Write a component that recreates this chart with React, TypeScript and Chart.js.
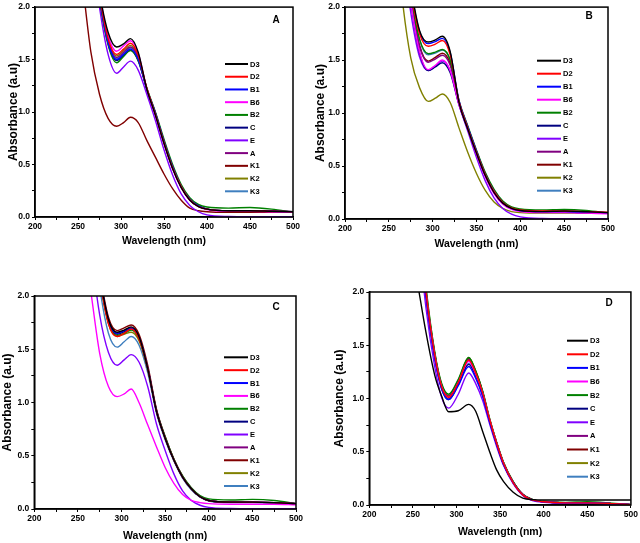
import React, { useEffect, useRef } from 'react';
import { Chart, registerables } from 'chart.js';

Chart.register(...registerables);
Chart.defaults.font.family = '"Liberation Sans", Arial, sans-serif';

// ---------- data ----------
const SERIES = ['D3', 'D2', 'B1', 'B6', 'B2', 'C', 'E', 'A', 'K1', 'K2', 'K3'];
const COLORS = ['#000000', '#ff0000', '#0000ff', '#ff00ff', '#008000', '#000080', '#8000ff', '#800080', '#800000', '#808000', '#3f7fbf'];
const PANEL_LETTERS = ['A', 'B', 'C', 'D'];
const X_TITLE = 'Wavelength (nm)';
const Y_TITLE = 'Absorbance (a.u)';

const WL_ABC = [255, 265, 275, 285, 295, 303, 311, 320, 330, 340, 350, 360, 370, 380, 390, 400, 425, 450, 475, 500];
const WL_D = [255, 265, 275, 283, 291, 302, 314, 322, 330, 338, 346, 354, 365, 376, 388, 400, 425, 450, 475, 500];

// Panel A
const A_D3 = [3.4, 2.8, 2.15, 1.76, 1.62, 1.65, 1.70, 1.57, 1.22, 0.97, 0.70, 0.46, 0.28, 0.16, 0.10, 0.075, 0.06, 0.06, 0.055, 0.05];
const A_D2 = [3.4, 2.75, 2.12, 1.70, 1.55, 1.60, 1.655, 1.54, 1.23, 0.98, 0.71, 0.47, 0.29, 0.165, 0.10, 0.075, 0.06, 0.06, 0.055, 0.05];
const A_B1 = [3.4, 2.75, 2.10, 1.66, 1.50, 1.55, 1.60, 1.50, 1.22, 0.99, 0.72, 0.48, 0.29, 0.17, 0.105, 0.075, 0.06, 0.06, 0.055, 0.05];
const A_B6 = [3.4, 2.8, 2.14, 1.73, 1.58, 1.63, 1.68, 1.56, 1.22, 0.97, 0.70, 0.46, 0.28, 0.16, 0.10, 0.07, 0.055, 0.055, 0.05, 0.045];
const A_B2 = [3.4, 2.75, 2.08, 1.64, 1.47, 1.53, 1.585, 1.49, 1.23, 1.00, 0.74, 0.50, 0.31, 0.185, 0.12, 0.095, 0.085, 0.09, 0.075, 0.045];
const A_C = [3.4, 2.75, 2.09, 1.65, 1.49, 1.54, 1.59, 1.49, 1.22, 0.99, 0.72, 0.48, 0.29, 0.17, 0.105, 0.075, 0.06, 0.06, 0.055, 0.05];
const A_E = [3.3, 2.65, 2.0, 1.55, 1.37, 1.43, 1.485, 1.40, 1.17, 0.92, 0.64, 0.40, 0.22, 0.11, 0.05, 0.02, 0.005, 0.003, 0.003, 0.003];
const A_A = [3.4, 2.75, 2.11, 1.68, 1.52, 1.57, 1.62, 1.52, 1.22, 0.98, 0.71, 0.47, 0.29, 0.165, 0.10, 0.075, 0.06, 0.06, 0.055, 0.05];
const A_K1 = [2.25, 1.57, 1.17, 0.94, 0.865, 0.90, 0.95, 0.90, 0.73, 0.57, 0.41, 0.27, 0.16, 0.085, 0.06, 0.05, 0.045, 0.045, 0.045, 0.045];
const A_K2 = [3.4, 2.75, 2.12, 1.69, 1.535, 1.585, 1.635, 1.53, 1.22, 0.98, 0.71, 0.47, 0.29, 0.165, 0.10, 0.075, 0.06, 0.06, 0.055, 0.05];
const A_K3 = [3.4, 2.75, 2.10, 1.67, 1.51, 1.56, 1.61, 1.51, 1.22, 0.99, 0.72, 0.48, 0.29, 0.17, 0.105, 0.075, 0.06, 0.06, 0.055, 0.05];

// Panel B
const B_D3 = [3.4, 2.8, 2.2, 1.78, 1.67, 1.69, 1.725, 1.58, 1.10, 0.85, 0.62, 0.41, 0.25, 0.15, 0.10, 0.08, 0.07, 0.075, 0.07, 0.06];
const B_D2 = [3.4, 2.8, 2.16, 1.75, 1.63, 1.65, 1.685, 1.55, 1.11, 0.86, 0.63, 0.42, 0.26, 0.155, 0.105, 0.085, 0.075, 0.075, 0.07, 0.065];
const B_B1 = [3.4, 2.8, 2.18, 1.77, 1.655, 1.675, 1.705, 1.57, 1.12, 0.87, 0.64, 0.42, 0.26, 0.155, 0.10, 0.08, 0.07, 0.07, 0.065, 0.06];
const B_B6 = [3.3, 2.7, 2.05, 1.58, 1.41, 1.45, 1.50, 1.40, 1.08, 0.85, 0.61, 0.40, 0.24, 0.14, 0.09, 0.07, 0.06, 0.06, 0.055, 0.05];
const B_B2 = [3.4, 2.8, 2.12, 1.70, 1.56, 1.575, 1.60, 1.50, 1.12, 0.88, 0.65, 0.44, 0.28, 0.17, 0.115, 0.095, 0.085, 0.09, 0.08, 0.055];
const B_C = [3.3, 2.7, 2.05, 1.57, 1.40, 1.435, 1.475, 1.38, 1.08, 0.85, 0.62, 0.41, 0.25, 0.15, 0.10, 0.08, 0.065, 0.065, 0.06, 0.055];
const B_E = [3.3, 2.6, 1.95, 1.53, 1.40, 1.44, 1.49, 1.40, 1.08, 0.83, 0.58, 0.36, 0.20, 0.10, 0.045, 0.02, 0.005, 0.003, 0.003, 0.003];
const B_A = [3.4, 2.75, 2.08, 1.63, 1.48, 1.51, 1.545, 1.45, 1.10, 0.86, 0.63, 0.42, 0.26, 0.155, 0.10, 0.08, 0.065, 0.065, 0.06, 0.055];
const B_K1 = [3.4, 2.75, 2.09, 1.64, 1.49, 1.525, 1.565, 1.47, 1.10, 0.86, 0.63, 0.42, 0.26, 0.155, 0.10, 0.08, 0.065, 0.065, 0.06, 0.055];
const B_K2 = [3.0, 2.1, 1.52, 1.24, 1.11, 1.14, 1.18, 1.10, 0.86, 0.63, 0.43, 0.27, 0.16, 0.10, 0.07, 0.06, 0.055, 0.055, 0.055, 0.055];
const B_K3 = [3.4, 2.8, 2.11, 1.69, 1.55, 1.565, 1.595, 1.50, 1.11, 0.87, 0.64, 0.43, 0.27, 0.16, 0.105, 0.085, 0.07, 0.07, 0.065, 0.06];

// Panel C
const C_D3 = [3.4, 2.8, 2.2, 1.78, 1.66, 1.68, 1.71, 1.62, 1.32, 0.92, 0.665, 0.46, 0.30, 0.19, 0.115, 0.08, 0.065, 0.065, 0.06, 0.05];
const C_D2 = [3.4, 2.8, 2.17, 1.74, 1.62, 1.65, 1.69, 1.60, 1.32, 0.92, 0.665, 0.46, 0.30, 0.19, 0.115, 0.08, 0.065, 0.065, 0.06, 0.05];
const C_B1 = [3.4, 2.8, 2.19, 1.77, 1.65, 1.675, 1.70, 1.61, 1.32, 0.92, 0.665, 0.46, 0.30, 0.19, 0.115, 0.08, 0.065, 0.065, 0.06, 0.05];
const C_B6 = [2.6, 2.03, 1.46, 1.15, 1.055, 1.08, 1.127, 1.00, 0.79, 0.585, 0.39, 0.24, 0.135, 0.08, 0.06, 0.05, 0.045, 0.045, 0.045, 0.04];
const C_B2 = [3.4, 2.8, 2.18, 1.75, 1.63, 1.65, 1.68, 1.60, 1.32, 0.93, 0.68, 0.47, 0.31, 0.20, 0.125, 0.095, 0.085, 0.09, 0.08, 0.05];
const C_C = [3.4, 2.8, 2.18, 1.76, 1.64, 1.665, 1.695, 1.61, 1.32, 0.92, 0.665, 0.46, 0.30, 0.19, 0.115, 0.08, 0.065, 0.065, 0.06, 0.05];
const C_E = [3.3, 2.45, 1.82, 1.47, 1.35, 1.40, 1.45, 1.38, 1.15, 0.80, 0.55, 0.33, 0.17, 0.08, 0.035, 0.015, 0.005, 0.003, 0.003, 0.003];
const C_A = [3.4, 2.8, 2.19, 1.77, 1.65, 1.675, 1.70, 1.61, 1.33, 0.93, 0.67, 0.465, 0.30, 0.19, 0.115, 0.08, 0.065, 0.065, 0.06, 0.05];
const C_K1 = [3.4, 2.8, 2.22, 1.80, 1.675, 1.70, 1.728, 1.64, 1.35, 0.94, 0.68, 0.47, 0.31, 0.195, 0.12, 0.08, 0.065, 0.065, 0.06, 0.05];
const C_K2 = [3.4, 2.8, 2.16, 1.74, 1.62, 1.64, 1.66, 1.58, 1.31, 0.92, 0.665, 0.46, 0.30, 0.19, 0.115, 0.08, 0.065, 0.065, 0.06, 0.05];
const C_K3 = [3.4, 2.75, 2.08, 1.65, 1.52, 1.57, 1.62, 1.54, 1.28, 0.90, 0.65, 0.45, 0.29, 0.18, 0.11, 0.075, 0.06, 0.06, 0.055, 0.045];

// Panel D
const D_D3 = [2.1, 1.62, 1.22, 1.02, 0.875, 0.885, 0.945, 0.88, 0.69, 0.50, 0.33, 0.22, 0.12, 0.065, 0.05, 0.047, 0.047, 0.047, 0.047, 0.047];
const D_D2 = [2.85, 2.0, 1.41, 1.11, 1.01, 1.15, 1.36, 1.24, 1.05, 0.80, 0.58, 0.39, 0.21, 0.095, 0.045, 0.03, 0.02, 0.02, 0.015, 0.003];
const D_B1 = [2.8, 1.96, 1.38, 1.09, 0.99, 1.12, 1.30, 1.19, 1.02, 0.78, 0.57, 0.38, 0.21, 0.095, 0.045, 0.03, 0.02, 0.02, 0.015, 0.003];
const D_B6 = [2.85, 2.0, 1.41, 1.11, 1.01, 1.15, 1.35, 1.23, 1.05, 0.80, 0.58, 0.39, 0.21, 0.095, 0.045, 0.03, 0.02, 0.02, 0.015, 0.003];
const D_B2 = [2.9, 2.05, 1.44, 1.14, 1.04, 1.18, 1.385, 1.26, 1.07, 0.81, 0.59, 0.40, 0.22, 0.10, 0.05, 0.035, 0.025, 0.03, 0.02, 0.003];
const D_C = [2.8, 1.97, 1.39, 1.09, 0.99, 1.13, 1.32, 1.21, 1.03, 0.79, 0.57, 0.38, 0.21, 0.095, 0.045, 0.03, 0.02, 0.02, 0.015, 0.003];
const D_E = [2.65, 1.85, 1.30, 1.01, 0.91, 1.04, 1.24, 1.14, 0.98, 0.76, 0.55, 0.37, 0.20, 0.09, 0.04, 0.025, 0.015, 0.015, 0.01, 0.003];
const D_A = [2.85, 2.0, 1.42, 1.12, 1.02, 1.16, 1.37, 1.25, 1.06, 0.80, 0.585, 0.395, 0.215, 0.10, 0.047, 0.03, 0.02, 0.02, 0.015, 0.003];
const D_K1 = [2.85, 2.0, 1.42, 1.12, 1.02, 1.16, 1.375, 1.25, 1.06, 0.80, 0.585, 0.395, 0.215, 0.10, 0.047, 0.03, 0.02, 0.02, 0.015, 0.003];
const D_K2 = [2.9, 2.03, 1.43, 1.13, 1.03, 1.17, 1.385, 1.26, 1.065, 0.81, 0.59, 0.40, 0.22, 0.10, 0.048, 0.03, 0.02, 0.02, 0.015, 0.003];
const D_K3 = [2.8, 1.97, 1.39, 1.10, 1.00, 1.14, 1.33, 1.22, 1.04, 0.79, 0.575, 0.385, 0.21, 0.095, 0.045, 0.03, 0.02, 0.02, 0.015, 0.003];

const PANEL_DATA = [
  { wl: WL_ABC, series: [A_D3, A_D2, A_B1, A_B6, A_B2, A_C, A_E, A_A, A_K1, A_K2, A_K3] },
  { wl: WL_ABC, series: [B_D3, B_D2, B_B1, B_B6, B_B2, B_C, B_E, B_A, B_K1, B_K2, B_K3] },
  { wl: WL_ABC, series: [C_D3, C_D2, C_B1, C_B6, C_B2, C_C, C_E, C_A, C_K1, C_K2, C_K3] },
  { wl: WL_D, series: [D_D3, D_D2, D_B1, D_B6, D_B2, D_C, D_E, D_A, D_K1, D_K2, D_K3] },
];

// ---------- layout ----------
const LAYOUTS = [
  { left: 0, top: 0, w: 310, h: 265, yW: 35, padR: 17, padT: 7, xH: 48, yTitlePad: 6.4, xTitlePad: 17.7, letterX: 276, letterY: 20, legX: 225, legY: 64, legGap: 12.73, legLen: 23 },
  { left: 310, top: 0, w: 330, h: 265, yW: 35, padR: 32, padT: 5, xH: 46, yTitlePad: 3.5, xTitlePad: 14.7, letterX: 279, letterY: 16, legX: 227, legY: 60.7, legGap: 13, legLen: 24 },
  { left: 0, top: 265, w: 310, h: 278, yW: 34.3, padR: 14, padT: 31, xH: 34, yTitlePad: 0, xTitlePad: 1, letterX: 276, letterY: 42, legX: 224, legY: 92.3, legGap: 12.87, legLen: 24 },
  { left: 310, top: 265, w: 330, h: 278, yW: 59.3, padR: 8.3, padT: 27, xH: 38, yTitlePad: 22.5, xTitlePad: 5, letterX: 299, letterY: 38, legX: 257, legY: 75.7, legGap: 13.6, legLen: 21 },
];

const FONT = '"Liberation Sans", Arial, sans-serif';

const framePlugin = {
  id: 'frameLegend',
  afterDatasetsDraw(chart: any, _args: any, opts: any) {
    const { ctx, chartArea: a } = chart;
    ctx.save();
    ctx.strokeStyle = '#000';
    ctx.lineWidth = 1.5;
    ctx.strokeRect(a.left, a.top, a.right - a.left, a.bottom - a.top);
    ctx.fillStyle = '#000';
    ctx.textAlign = 'center';
    ctx.textBaseline = 'middle';
    ctx.font = `bold 10px ${FONT}`;
    ctx.fillText(opts.letter, opts.letterX, opts.letterY);
    ctx.font = `bold 7.5px ${FONT}`;
    ctx.textAlign = 'left';
    chart.data.datasets.forEach((ds: any, i: number) => {
      const y = opts.legY + i * opts.legGap;
      ctx.strokeStyle = ds.borderColor;
      ctx.lineWidth = 2;
      ctx.beginPath();
      ctx.moveTo(opts.legX, y);
      ctx.lineTo(opts.legX + opts.legLen, y);
      ctx.stroke();
      ctx.fillStyle = '#000';
      ctx.fillText(ds.label, opts.legX + opts.legLen + 2, y + 0.5);
    });
    ctx.restore();
  },
};

function Panel({ idx }: { idx: number }) {
  const ref = useRef<HTMLCanvasElement | null>(null);
  const L = LAYOUTS[idx];
  useEffect(() => {
    if (!ref.current) return;
    const pd = PANEL_DATA[idx];
    const datasets = SERIES.map((name, si) => ({
      label: name,
      data: pd.wl.map((x, i) => ({ x, y: pd.series[si][i] })),
      borderColor: COLORS[si],
      backgroundColor: COLORS[si],
      borderWidth: 1.4,
      pointRadius: 0,
      fill: false,
      cubicInterpolationMode: 'monotone' as const,
    }));
    const chart = new Chart(ref.current, {
      type: 'line',
      data: { datasets },
      plugins: [framePlugin],
      options: {
        animation: false,
        responsive: false,
        devicePixelRatio: 1,
        events: [],
        layout: { padding: { left: 0, right: L.padR, top: L.padT, bottom: 0 } },
        plugins: {
          legend: { display: false },
          tooltip: { enabled: false },
          frameLegend: {
            letter: PANEL_LETTERS[idx],
            letterX: L.letterX,
            letterY: L.letterY,
            legX: L.legX,
            legY: L.legY,
            legGap: L.legGap,
            legLen: L.legLen,
          },
        } as any,
        scales: {
          x: {
            type: 'linear',
            min: 200,
            max: 500,
            afterFit: (s: any) => { s.height = L.xH; },
            ticks: {
              stepSize: 25,
              autoSkip: false,
              maxRotation: 0,
              padding: 2,
              color: '#000',
              font: { size: 8.5, weight: 'bold' },
              callback: (v: any) => (Number(v) % 50 === 0 ? String(v) : ''),
            },
            grid: { drawOnChartArea: false, drawTicks: true, tickLength: 3, color: '#000', lineWidth: 1 },
            border: { color: '#000', width: 1.5 },
            title: {
              display: true,
              text: X_TITLE,
              color: '#000',
              font: { size: 10.5, weight: 'bold' },
              padding: { top: 0, bottom: L.xTitlePad },
            },
          },
          y: {
            type: 'linear',
            min: 0,
            max: 2,
            afterFit: (s: any) => { s.width = L.yW; },
            ticks: {
              stepSize: 0.25,
              autoSkip: false,
              padding: 2,
              color: '#000',
              font: { size: 8.5, weight: 'bold' },
              callback: (v: any) => (Math.round(Number(v) * 100) % 50 === 0 ? Number(v).toFixed(1) : ''),
            },
            grid: { drawOnChartArea: false, drawTicks: true, tickLength: 3, color: '#000', lineWidth: 1 },
            border: { color: '#000', width: 1.5 },
            title: {
              display: true,
              text: Y_TITLE,
              color: '#000',
              font: { size: 12, weight: 'bold' },
              padding: { top: L.yTitlePad, bottom: 0 },
            },
          },
        },
      } as any,
    });
    return () => chart.destroy();
  }, [idx]);
  return (
    <canvas
      ref={ref}
      width={L.w}
      height={L.h}
      style={{ position: 'absolute', left: L.left, top: L.top, width: L.w, height: L.h }}
    />
  );
}

export default function App() {
  return (
    <div style={{ position: 'absolute', left: 0, top: 0, width: 640, height: 543, background: '#fff', overflow: 'hidden' }}>
      {[0, 1, 2, 3].map((i) => (
        <Panel key={i} idx={i} />
      ))}
    </div>
  );
}
